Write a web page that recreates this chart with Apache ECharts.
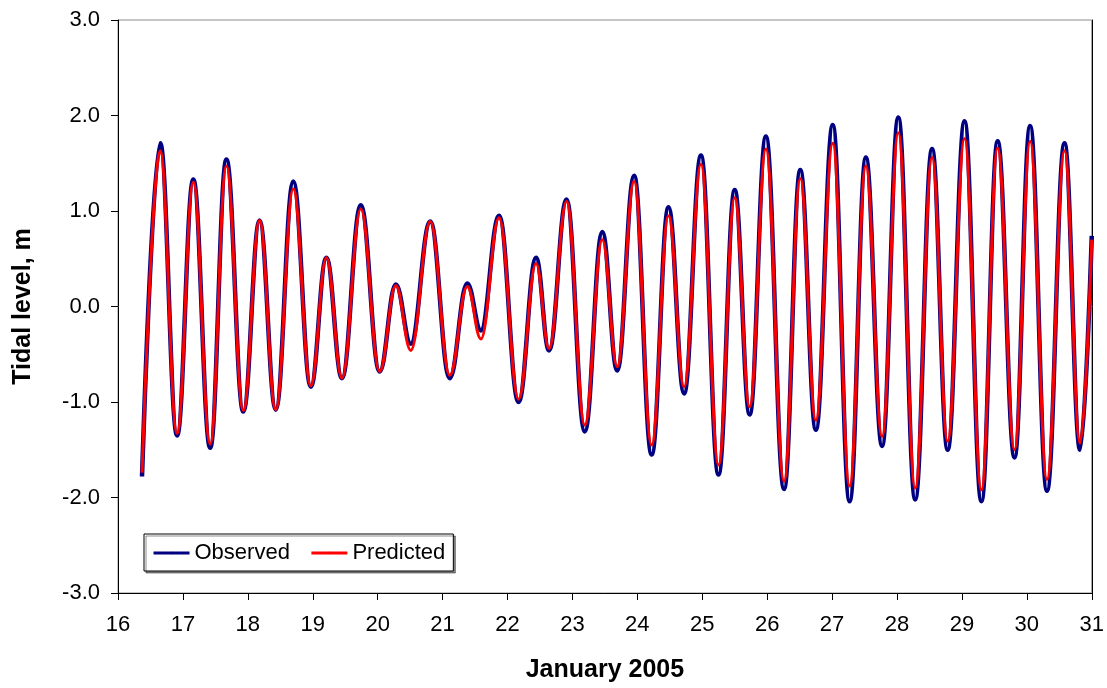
<!DOCTYPE html>
<html>
<head>
<meta charset="utf-8">
<title>Tidal level, January 2005</title>
<script src="https://cdn.jsdelivr.net/npm/echarts@6/dist/echarts.min.js"></script>
<style>
  html, body { margin: 0; padding: 0; background: #fff; }
  #chart { width: 1107px; height: 688px; }
</style>
</head>
<body>
<div id="chart"></div>
<script>
// Times (day of January 2005) of successive high and low waters,
// ending with the level at the end of the record
const times = [
  16.37, 16.65, 16.91, 17.16, 17.42, 17.67, 17.93, 18.18, 18.43, 18.70,
  18.97, 19.21, 19.45, 19.74, 20.03, 20.28, 20.51, 20.81, 21.11, 21.38,
  21.59, 21.87, 22.17, 22.44, 22.64, 22.91, 23.19, 23.46, 23.69, 23.95,
  24.22, 24.48, 24.72, 24.98, 25.25, 25.50, 25.73, 25.98, 26.26, 26.51,
  26.75, 27.01, 27.27, 27.52, 27.77, 28.02, 28.28, 28.54, 28.78, 29.04,
  29.30, 29.55, 29.81, 30.05, 30.31, 30.58, 30.82, 31.00
];

// Observed tidal level at those times (m)
const observed = [
  -1.78, 1.71, -1.35, 1.33, -1.48, 1.54, -1.10, 0.90, -1.08, 1.31,
  -0.84, 0.51, -0.75, 1.06, -0.68, 0.23, -0.39, 0.89, -0.75, 0.24,
  -0.25, 0.95, -1.00, 0.51, -0.46, 1.12, -1.31, 0.78, -0.67, 1.37,
  -1.55, 1.04, -0.91, 1.58, -1.76, 1.22, -1.13, 1.78, -1.91, 1.43,
  -1.29, 1.90, -2.04, 1.56, -1.46, 1.98, -2.02, 1.65, -1.50, 1.94,
  -2.04, 1.73, -1.58, 1.89, -1.93, 1.71, -1.50, 0.74
];

// Predicted tidal level at those times (m)
const predicted = [
  -1.74, 1.63, -1.33, 1.30, -1.44, 1.47, -1.09, 0.90, -1.08, 1.23,
  -0.83, 0.51, -0.75, 1.02, -0.68, 0.22, -0.46, 0.89, -0.72, 0.21,
  -0.34, 0.93, -0.97, 0.45, -0.44, 1.10, -1.24, 0.70, -0.63, 1.31,
  -1.45, 0.95, -0.84, 1.49, -1.66, 1.14, -1.05, 1.65, -1.83, 1.34,
  -1.19, 1.71, -1.88, 1.47, -1.36, 1.82, -1.90, 1.56, -1.41, 1.76,
  -1.92, 1.66, -1.50, 1.73, -1.81, 1.63, -1.43, 0.70
];

const dayTicks = { min: 16, max: 31, step: 1 };
const levelTicks = { min: -3, max: 3, step: 1 };

const pairs = (xs, ys) => xs.map((x, i) => [x, ys[i]]);

const FONT = '"Liberation Sans", Arial, sans-serif';

const chart = echarts.init(document.getElementById('chart'), null, { renderer: 'canvas' });

chart.setOption({
  animation: false,
  backgroundColor: '#ffffff',
  textStyle: { fontFamily: FONT, color: '#000' },
  grid: {
    left: 118, top: 20, right: 15, bottom: 93,
    show: true, borderColor: '#8c8c8c', borderWidth: 1,
    containLabel: false
  },
  legend: {
    left: 144, top: 534,
    padding: [8, 8, 7, 8],
    itemGap: 20, itemWidth: 36, itemHeight: 3,
    backgroundColor: '#ffffff',
    borderColor: '#000', borderWidth: 1,
    shadowColor: 'rgba(0,0,0,0.45)', shadowOffsetX: 2, shadowOffsetY: 2, shadowBlur: 0,
    textStyle: { fontFamily: FONT, fontSize: 22, color: '#000' },
    lineStyle: { width: 3 },
    data: ['Observed', 'Predicted']
  },
  xAxis: {
    type: 'value',
    min: dayTicks.min, max: dayTicks.max, interval: dayTicks.step,
    name: 'January 2005',
    nameLocation: 'middle', nameGap: 65,
    nameTextStyle: { fontFamily: FONT, fontSize: 25, fontWeight: 'bold', color: '#000' },
    axisLine: { show: true, onZero: false, lineStyle: { color: '#000', width: 1 } },
    axisTick: { show: true, inside: false, length: 7, lineStyle: { color: '#000' } },
    axisLabel: { margin: 21, fontFamily: FONT, fontSize: 22, color: '#000' },
    splitLine: { show: false }
  },
  yAxis: [{
    type: 'value',
    min: levelTicks.min, max: levelTicks.max, interval: levelTicks.step,
    name: 'Tidal level, m',
    nameLocation: 'middle', nameGap: 82, nameRotate: 90,
    nameTextStyle: { fontFamily: FONT, fontSize: 25, fontWeight: 'bold', color: '#000' },
    axisLine: { show: true, onZero: false, lineStyle: { color: '#000', width: 1 } },
    axisTick: { show: true, inside: false, length: 7, lineStyle: { color: '#000' } },
    axisLabel: {
      margin: 18, fontFamily: FONT, fontSize: 22, color: '#000',
      formatter: v => v.toFixed(1)
    },
    splitLine: { show: false }
  }, {
    type: 'value', position: 'right',
    min: levelTicks.min, max: levelTicks.max, interval: levelTicks.step,
    axisLine: { show: true, onZero: false, lineStyle: { color: '#000', width: 1 } },
    axisTick: { show: false }, axisLabel: { show: false }, splitLine: { show: false }
  }],
  series: [{
    name: 'Observed',
    type: 'line',
    data: pairs(times, observed),
    smooth: 0.4, smoothMonotone: 'x',
    symbol: 'none', clip: true,
    color: '#000080',
    lineStyle: { color: '#000080', width: 4.5 },
    z: 2
  }, {
    name: 'Predicted',
    type: 'line',
    data: pairs(times, predicted),
    smooth: 0.4, smoothMonotone: 'x',
    symbol: 'none', clip: true,
    color: '#ff0000',
    lineStyle: { color: '#ff0000', width: 3 },
    z: 3
  }]
});
</script>
</body>
</html>
